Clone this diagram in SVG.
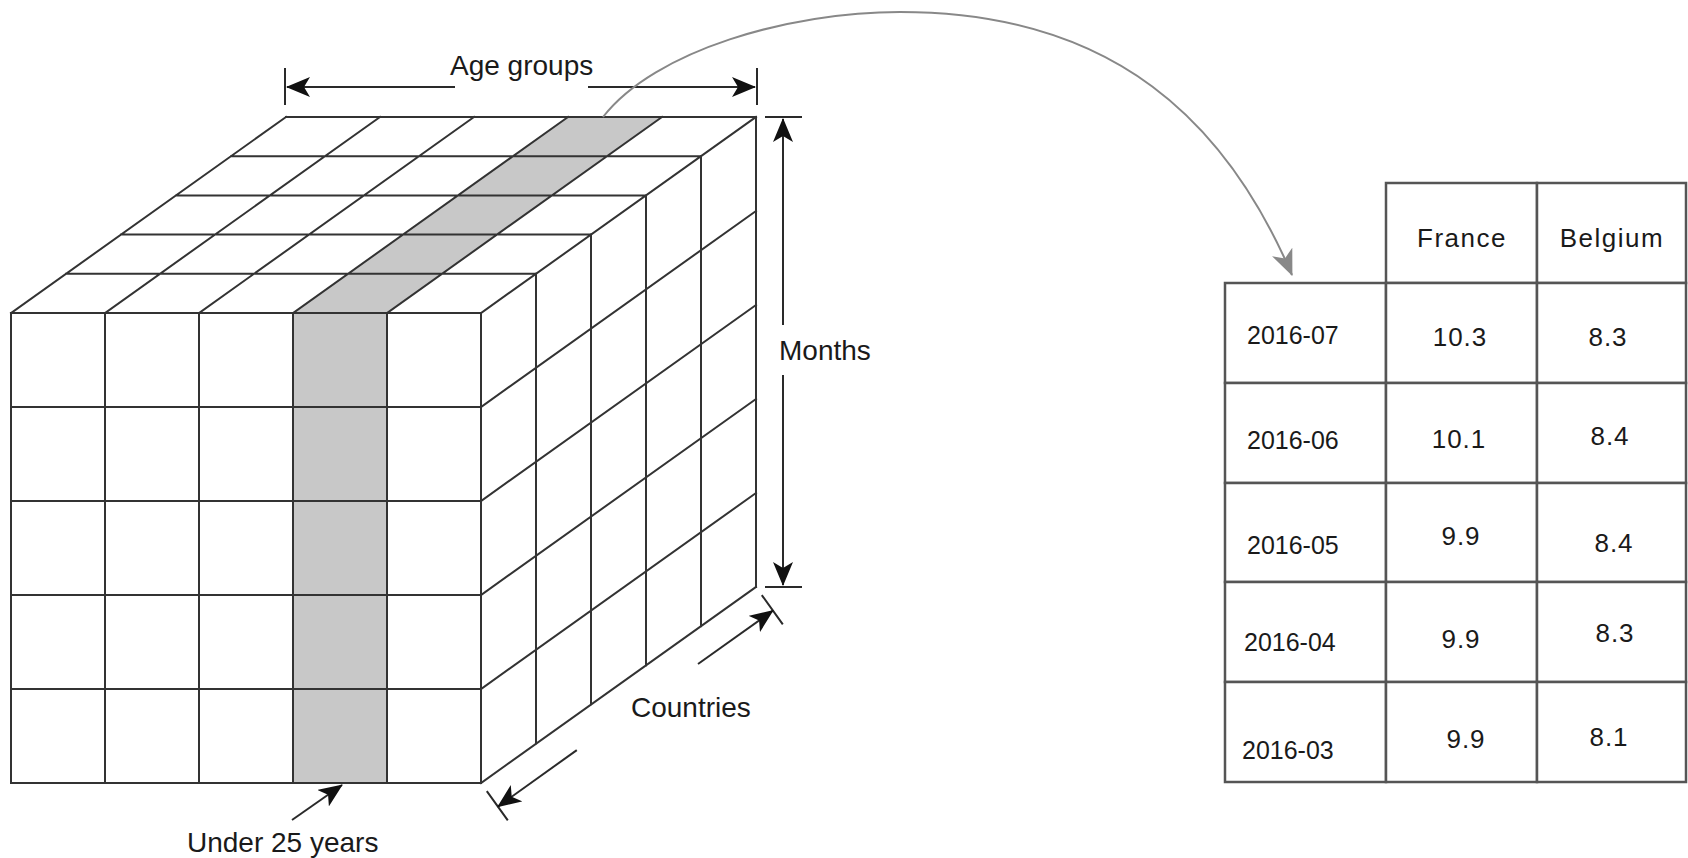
<svg xmlns="http://www.w3.org/2000/svg" width="1688" height="858" viewBox="0 0 1688 858">
  <defs>
    <style>
      .g { stroke: #333; stroke-width: 2; fill: none; stroke-linecap: square; }
      .shade { fill: #c8c8c8; stroke: none; }
      .dim { stroke: #2a2a2a; stroke-width: 2; fill: none; }
      .lbl { font-family: "Liberation Sans", Arial, sans-serif; font-size: 28px; fill: #1a1a1a; }
      .cell { fill: #fff; stroke: #555; stroke-width: 2.5; }
      .hd { font-family: "Liberation Sans", Arial, sans-serif; font-size: 26px; letter-spacing: 1.5px; fill: #1a1a1a; text-anchor: middle; }
      .dt { font-family: "Liberation Sans", Arial, sans-serif; font-size: 25px; fill: #1a1a1a; }
      .val { font-family: "Liberation Sans", Arial, sans-serif; font-size: 26px; letter-spacing: 1px; fill: #1a1a1a; text-anchor: middle; }
    </style>
    <marker id="ah" markerUnits="userSpaceOnUse" markerWidth="24" markerHeight="20" viewBox="0 0 24 20" refX="23" refY="10" orient="auto">
      <path d="M0,0 L24,10 L0,20 L6,10 Z" fill="#111"/>
    </marker>
    <marker id="ahg" markerUnits="userSpaceOnUse" markerWidth="26" markerHeight="22" viewBox="0 0 26 22" refX="25" refY="11" orient="auto">
      <path d="M0,0 L26,11 L0,22 L7,11 Z" fill="#888"/>
    </marker>
  </defs>
  <rect width="1688" height="858" fill="#fff"/>

  <g id="cube">
    <rect class="shade" x="293" y="313" width="94" height="470"/>
    <polygon class="shade" points="293,313 387,313 662,117 568,117"/>
    <!-- front face -->
    <rect class="g" x="11" y="313" width="470" height="470"/>
    <path class="g" d="M105,313V783 M199,313V783 M293,313V783 M387,313V783
                       M11,407H481 M11,501H481 M11,595H481 M11,689H481"/>
    <!-- top face -->
    <path class="g" d="M66,273.8H536 M121,234.6H591 M176,195.4H646 M231,156.2H701 M286,117H756
                       M11,313L286,117 M105,313L380,117 M199,313L474,117 M293,313L568,117 M387,313L662,117 M481,313L756,117"/>
    <!-- right face -->
    <path class="g" d="M536,273.8V743.8 M591,234.6V704.6 M646,195.4V665.4 M701,156.2V626.2 M756,117V587
                       M481,407L756,211 M481,501L756,305 M481,595L756,399 M481,689L756,493 M481,783L756,587"/>
  </g>

  <g id="label-age-groups">
    <text class="lbl" x="450" y="75">Age groups</text>
  </g>
  <g id="label-months">
    <text class="lbl" x="779" y="360" font-size="27">Months</text>
  </g>
  <g id="label-countries">
    <text class="lbl" x="631" y="717">Countries</text>
  </g>
  <g id="label-under25">
    <text class="lbl" x="187" y="852">Under 25 years</text>
  </g>

  <g id="table">
    <g id="header-france"><rect class="cell" x="1386" y="183" width="151" height="100"/><text class="hd" x="1462" y="247">France</text></g>
    <g id="header-belgium"><rect class="cell" x="1537" y="183" width="149" height="100"/><text class="hd" x="1612" y="247">Belgium</text></g>

    <g id="row-2016-07">
      <rect class="cell" x="1225" y="283" width="161" height="100"/><text class="dt" x="1247" y="344">2016-07</text>
      <rect class="cell" x="1386" y="283" width="151" height="100"/><text class="val" x="1460" y="346">10.3</text>
      <rect class="cell" x="1537" y="283" width="149" height="100"/><text class="val" x="1608" y="346">8.3</text>
    </g>
    <g id="row-2016-06">
      <rect class="cell" x="1225" y="383" width="161" height="100"/><text class="dt" x="1247" y="449">2016-06</text>
      <rect class="cell" x="1386" y="383" width="151" height="100"/><text class="val" x="1459" y="448">10.1</text>
      <rect class="cell" x="1537" y="383" width="149" height="100"/><text class="val" x="1610" y="445">8.4</text>
    </g>
    <g id="row-2016-05">
      <rect class="cell" x="1225" y="483" width="161" height="99"/><text class="dt" x="1247" y="554">2016-05</text>
      <rect class="cell" x="1386" y="483" width="151" height="99"/><text class="val" x="1461" y="545">9.9</text>
      <rect class="cell" x="1537" y="483" width="149" height="99"/><text class="val" x="1614" y="552">8.4</text>
    </g>
    <g id="row-2016-04">
      <rect class="cell" x="1225" y="582" width="161" height="100"/><text class="dt" x="1244" y="651">2016-04</text>
      <rect class="cell" x="1386" y="582" width="151" height="100"/><text class="val" x="1461" y="648">9.9</text>
      <rect class="cell" x="1537" y="582" width="149" height="100"/><text class="val" x="1615" y="642">8.3</text>
    </g>
    <g id="row-2016-03">
      <rect class="cell" x="1225" y="682" width="161" height="100"/><text class="dt" x="1242" y="759">2016-03</text>
      <rect class="cell" x="1386" y="682" width="151" height="100"/><text class="val" x="1466" y="748">9.9</text>
      <rect class="cell" x="1537" y="682" width="149" height="100"/><text class="val" x="1609" y="746">8.1</text>
    </g>
  </g>

  <g id="connectors">
    <!-- Age groups dimension -->
    <path class="dim" d="M285,68V105 M757,68V105"/>
    <line class="dim" x1="455" y1="87" x2="287" y2="87" marker-end="url(#ah)"/>
    <line class="dim" x1="588" y1="87" x2="755" y2="87" marker-end="url(#ah)"/>
    <!-- Months dimension -->
    <path class="dim" d="M765,117H802 M765,587H802"/>
    <line class="dim" x1="783" y1="325" x2="783" y2="119" marker-end="url(#ah)"/>
    <line class="dim" x1="783" y1="375" x2="783" y2="585" marker-end="url(#ah)"/>
    <!-- Countries dimension -->
    <path class="dim" d="M761.8,595.1L782.8,624.4 M486.8,791.1L507.8,820.4"/>
    <line class="dim" x1="698" y1="664" x2="772.9" y2="610.6" marker-end="url(#ah)"/>
    <line class="dim" x1="576.8" y1="750.1" x2="497.9" y2="806.6" marker-end="url(#ah)"/>
    <!-- Under 25 years pointer -->
    <line class="dim" x1="292" y1="820" x2="342" y2="785" marker-end="url(#ah)"/>
    <!-- Slice to table arc -->
    <path d="M603,117 C655,50 790,12 900,12 C1115,12 1227,123 1292,275" fill="none" stroke="#888" stroke-width="2" marker-end="url(#ahg)"/>
  </g>
</svg>
